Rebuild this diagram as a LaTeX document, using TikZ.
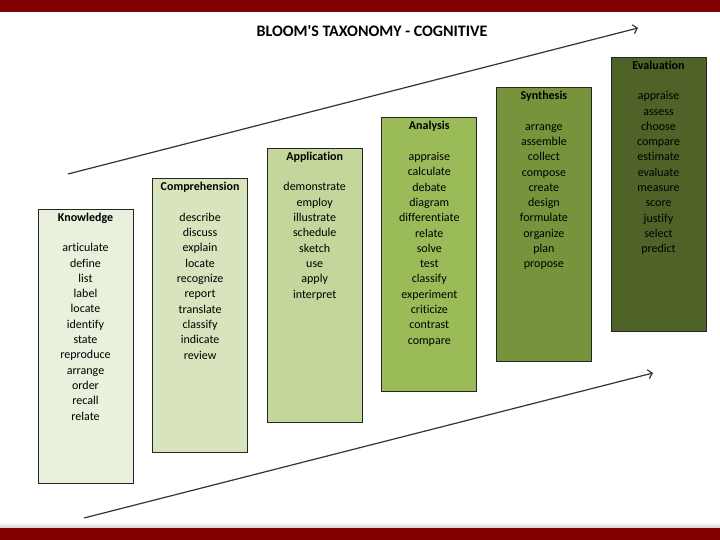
\documentclass[tikz,border=0pt]{standalone}
\usepackage{fontspec}
\setmainfont{Carlito}[Ligatures=NoCommon]
\usetikzlibrary{arrows.meta,positioning}

\definecolor{slidered}{RGB}{128,0,0}
\definecolor{olivea}{HTML}{E9F0DC}
\definecolor{oliveb}{HTML}{D7E4BD}
\definecolor{olivec}{HTML}{C3D69B}
\definecolor{olived}{HTML}{9BBB59}
\definecolor{olivee}{HTML}{77933C}
\definecolor{olivef}{HTML}{4F6228}

\begin{document}
\begin{tikzpicture}[x=1pt,y=1pt,
    level/.style={draw=black!85,line width=0.8pt,rectangle,minimum width=95pt,minimum height=274pt,inner sep=0pt,outer sep=0pt},
    words/.style={align=center,inner sep=0pt,font=\fontsize{12}{15.3}\selectfont},
    trend/.style={draw=black!80,line width=1.2pt,-{Straight Barb[length=4pt,width=9pt]}}]
      \useasboundingbox (0,0) rectangle (720,540);
      \fill[slidered] (0,528) rectangle (720,540);
      \shade[top color=white,bottom color=black!18] (0,12) rectangle (720,18);
      \fill[slidered] (0,0) rectangle (720,12);

      \node[font=\fontsize{16}{18}\selectfont\bfseries] (title) at (372,509) {BLOOM\textquotesingle S TAXONOMY - COGNITIVE};

      \node[level,fill=olivea,anchor=south west] (know) at (38,57) {};
      \node[level,fill=oliveb,above right=30.4pt and 19.6pt of know.south east] (comp) {};
      \node[level,fill=olivec,above right=30.4pt and 19.6pt of comp.south east] (appl) {};
      \node[level,fill=olived,above right=30.4pt and 19.6pt of appl.south east] (analy) {};
      \node[level,fill=olivee,above right=30.4pt and 19.6pt of analy.south east] (synth) {};
      \node[level,fill=olivef,above right=30.4pt and 19.6pt of synth.south east] (eval) {};

      \node[words,below=3.5pt of know.north] (know-t) {\textbf{Knowledge}\\[15.3pt]
        articulate\\ define\\ list\\ label\\ locate\\ identify\\ state\\
        reproduce\\ arrange\\ order\\ recall\\ relate};
      \node[words,below=3.5pt of comp.north] (comp-t) {\textbf{Comprehension}\\[15.3pt]
        describe\\ discuss\\ explain\\ locate\\ recognize\\ report\\
        translate\\ classify\\ indicate\\ review};
      \node[words,below=3.5pt of appl.north] (appl-t) {\textbf{Application}\\[15.3pt]
        demonstrate\\ employ\\ illustrate\\ schedule\\ sketch\\ use\\
        apply\\ interpret};
      \node[words,below=3.5pt of analy.north] (analy-t) {\textbf{Analysis}\\[15.3pt]
        appraise\\ calculate\\ debate\\ diagram\\ differentiate\\ relate\\
        solve\\ test\\ classify\\ experiment\\ criticize\\ contrast\\ compare};
      \node[words,below=3.5pt of synth.north] (synth-t) {\textbf{Synthesis}\\[15.3pt]
        arrange\\ assemble\\ collect\\ compose\\ create\\ design\\
        formulate\\ organize\\ plan\\ propose};
      \node[words,below=3.5pt of eval.north] (eval-t) {\textbf{Evaluation}\\[15.3pt]
        appraise\\ assess\\ choose\\ compare\\ estimate\\ evaluate\\
        measure\\ score\\ justify\\ select\\ predict};

      % rising arrows
      \coordinate (up-a) at (68,366);
      \coordinate (up-b) at (638,512);
      \draw[trend] (up-a)--(up-b);
      \coordinate (low-a) at (84,22);
      \coordinate (low-b) at (653,167);
      \draw[trend] (low-a)--(low-b);
\end{tikzpicture}
\end{document}
